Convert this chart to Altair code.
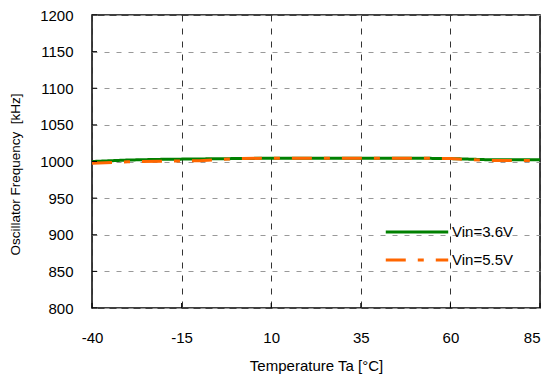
import altair as alt
import pandas as pd

temps = [-40, -30, -20, -10, 0, 10, 20, 30, 40, 50, 60, 70, 85]
vin36 = [1000, 1002, 1003, 1003.5, 1004, 1004.5, 1004.5, 1004.5, 1004.5, 1004.5, 1004, 1002.5, 1002.5]
vin55 = [997.5, 999.5, 1000.5, 1001, 1004, 1004.5, 1004.5, 1004.5, 1004.5, 1004.5, 1004, 1001.5, 1001.5]
series = ["Vin=3.6V", "Vin=5.5V"]
x_ticks = [-40, -15, 10, 35, 60, 85]
y_ticks = [800, 850, 900, 950, 1000, 1050, 1100, 1150, 1200]

rows = []
for t, a, b in zip(temps, vin36, vin55):
    rows.append({"T": t, "F": a, "S": series[0]})
    rows.append({"T": t, "F": b, "S": series[1]})
df = pd.DataFrame(rows)

FONT = "Liberation Sans"
xs = alt.Scale(domain=[-40, 85], nice=False, zero=False)
ys = alt.Scale(domain=[800, 1200], nice=False, zero=False)

ax_x = alt.Axis(values=x_ticks, ticks=False, domain=False, labelPadding=22,
                labelExpr="'' + datum.value", labelOverlap=False, labelFlush=False,
                labelAlign={"expr": "datum.value == 85 ? 'right' : 'center'"},
                labelFontSize=15, labelFont=FONT, labelColor="black",
                titleFontSize=15, titleFont=FONT, titleFontWeight="normal",
                titleColor="black", titlePadding=13,
                grid=True, gridColor="#333333", gridDash=[6, 7], gridWidth=1)
ax_y = alt.Axis(values=y_ticks, ticks=False, domain=False, labelPadding=19,
                labelExpr="'' + datum.value", labelOverlap=False, labelFlush=False,
                labelFontSize=15, labelFont=FONT, labelColor="black",
                titleFontSize=13.5, titleFont=FONT, titleFontWeight="normal",
                titleColor="black", titleX=-77, titleY=159, titleAngle=-90,
                titleBaseline="middle", titleAlign="center",
                grid=True, gridColor="#999999", gridDash=[5, 7], gridWidth=1)

leg = alt.Legend(title=None, orient="none", legendX=292, legendY=209,
                 symbolType="stroke", symbolSize=3900, symbolStrokeWidth=3,
                 labelFontSize=15, labelFont=FONT, labelColor="black",
                 clipHeight=16, rowPadding=12, labelOffset=2)

XT = "Temperature Ta [°C]"
YT = "Oscillator Frequency\u00a0 [kHz]"

lines = alt.Chart(df).mark_line(strokeWidth=3).encode(
    x=alt.X("T:Q", scale=xs, title=XT, axis=ax_x),
    y=alt.Y("F:Q", scale=ys, title=YT, axis=ax_y),
    color=alt.Color("S:N", scale=alt.Scale(domain=series, range=["#008000", "#FF6600"]),
                    legend=leg),
    strokeDash=alt.StrokeDash("S:N", scale=alt.Scale(domain=series, range=[[1, 0], [20, 12, 6, 12]]),
                              legend=leg),
)

ytick_df = pd.DataFrame({"F": y_ticks})
xtick_df = pd.DataFrame({"T": x_ticks})
yt = alt.Chart(ytick_df).mark_rule(color="black", strokeWidth=1).encode(
    y=alt.Y("F:Q", scale=ys, title=YT, axis=ax_y), x=alt.value(0), x2=alt.value(5))
xt = alt.Chart(xtick_df).mark_rule(color="black", strokeWidth=1).encode(
    x=alt.X("T:Q", scale=xs, title=XT, axis=ax_x), y=alt.value(293), y2=alt.value(288))

chart = alt.layer(lines, yt, xt).properties(
    width=448, height=293,
    autosize=alt.AutoSizeParams(type="none"),
    padding={"left": 84, "top": 7, "right": 5, "bottom": 69},
).configure_view(stroke="black", strokeWidth=1.5)

chart.save("out.html", embed_options={"renderer": "svg", "actions": False})
